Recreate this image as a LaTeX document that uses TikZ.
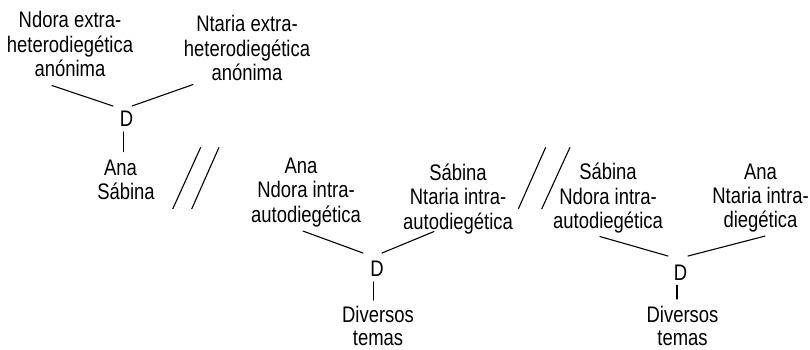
\documentclass[tikz,border=0pt]{standalone}
\usepackage{fontspec}
\setmainfont{Liberation Sans}[FakeStretch=0.82]
\usetikzlibrary{calc}
\begin{document}
\begin{tikzpicture}[x=1pt,y=1pt,
  lbl/.style={font=\fontsize{22.5}{23}\selectfont, align=center, inner sep=0pt, anchor=north},
  dnode/.style={font=\fontsize{22.5}{23}\selectfont, inner sep=0pt, anchor=base},
  conn/.style={line width=1.1pt, line cap=round},
  sep/.style={line width=1.1pt}]
\useasboundingbox (0,0) rectangle (810,349);

% first group: extradiegetic narrators
\node[lbl] (top1) at (70,337.8) {\strut Ndora extra-\\\strut heterodiegética\\\strut anónima};
\node[lbl] (top2) at (247,333.6) {\strut Ntaria extra-\\\strut heterodiegética\\\strut anónima};
\node[dnode] (D1) at (126.5,222.3) {D};
\node[lbl] (ana1) at (126,190.1) {\strut Ana\hspace*{11pt}\\\strut Sábina};

\draw[conn] ($(top1.south)+(-18,-1.8)$) -- ($(D1.north)+(-13.5,5)$);
\draw[conn] ($(top2.south)+(-54,3.4)$) -- ($(D1.north)+(5.5,5)$);
\draw[conn] ($(D1.south)+(-3.2,-5)$) -- ($(D1.south |- ana1.north)+(-3.2,7.2)$);

% second group
\node[lbl] (blk2) at (306,191.8) {\strut Ana\hspace*{10pt}\\\strut Ndora intra-\\\strut autodiegética};
\node[lbl] (blk3) at (458,185.1) {\strut Sábina\\\strut Ntaria intra-\\\strut autodiegética};
\node[dnode] (D2) at (377,72.3) {D};
\node[lbl] (div2) at (378,43.4) {\strut Diversos\\temas};

\draw[conn] ($(blk2.south)+(-3,-1.8)$) -- ($(D2.north)+(-14,8)$);
\draw[conn] ($(blk3.south)+(-24,4.9)$) -- ($(D2.north)+(5,8)$);
\draw[conn] ($(D2.south)+(-3.7,-5)$) -- ($(D2.south |- div2.north)+(-3.7,5.6)$);

% third group
\node[lbl] (blk4) at (608,185.8) {\strut Sábina\\\strut Ndora intra-\\\strut autodiegética};
\node[lbl] (blk5) at (760.5,186.1) {\strut Ana\\\strut Ntaria intra-\\\strut diegética};
\node[dnode] (D3) at (680.5,69) {D};
\node[lbl] (div3) at (682.5,42.6) {\strut Diversos\\temas};

\draw[conn] ($(blk4.south)+(-8,-0.8)$) -- ($(D3.north)+(-12.5,8.3)$);
\draw[conn] ($(blk5.south)+(4.5,-1.1)$) -- ($(D3.north)+(7.5,8.3)$);
\draw[conn] ($(D3.south)+(-3.5,-5)$) -- ($(D3.south |- div3.north)+(-3.5,7.4)$);

% separators between the groups
\draw[sep] (172.7,140) -- (200.7,201.7);
\draw[sep] (191.7,140) -- (219,201.7);
\draw[sep] (518.3,140) -- (545.7,201.7);
\draw[sep] (541.7,140) -- (570,201.7);
\end{tikzpicture}
\end{document}
